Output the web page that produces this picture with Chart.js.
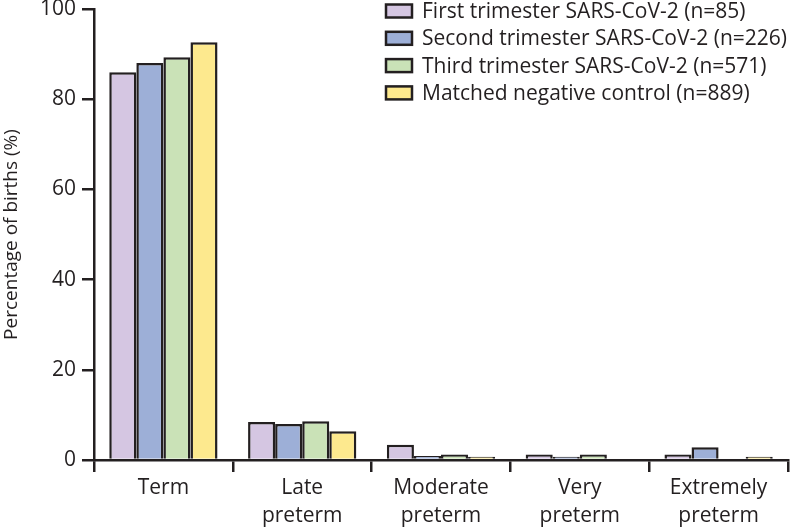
<!DOCTYPE html>
<html>
<head>
<meta charset="utf-8">
<script src="https://cdn.jsdelivr.net/npm/chart.js@4.4.0/dist/chart.umd.min.js"></script>
<style>
    html, body { margin: 0; padding: 0; background: #fff; }
    #wrap { width: 792px; height: 531px; }
</style>
</head>
<body>
<div id="wrap"><canvas id="births"></canvas></div>
<script>
// ===============================
// Data
// ===============================

const categories = [
    "Term",
    ["Late", "preterm"],
    ["Moderate", "preterm"],
    ["Very", "preterm"],
    ["Extremely", "preterm"]
];

const seriesNames = [
    "First trimester SARS-CoV-2 (n=85)",
    "Second trimester SARS-CoV-2 (n=226)",
    "Third trimester SARS-CoV-2 (n=571)",
    "Matched negative control (n=889)"
];

const firstTrimester  = [86.0, 8.4, 3.4, 1.2, 1.2];
const secondTrimester = [88.0, 8.0, 0.9, 0.7, 2.8];
const thirdTrimester  = [89.3, 8.6, 1.2, 1.2, 0];
const negControl      = [92.6, 6.4, 0.7, 0.3, 0.7];

const yTicks = [0, 20, 40, 60, 80, 100];

const fillColors = ["#d5c6e2", "#9dafd7", "#cae2b7", "#fde98e"];

const ink = "#231f20";
const fontFamily = "'Open Sans', 'DejaVu Sans', sans-serif";

// ===============================
// Legend drawn inside the plot (top right)
// ===============================

const insideLegend = {
    id: "insideLegend",
    afterDraw(chart){
        const ctx = chart.ctx;
        ctx.save();
        ctx.font = "21px " + fontFamily;
        ctx.textBaseline = "middle";
        chart.data.datasets.forEach(function(ds, i){
            const y = 11 + i * 27.3;
            ctx.fillStyle = ds.backgroundColor;
            ctx.strokeStyle = ink;
            ctx.lineWidth = 2.5;
            ctx.fillRect(386, y - 6.5, 26, 13);
            ctx.strokeRect(386, y - 6.5, 26, 13);
            ctx.fillStyle = ink;
            ctx.fillText(ds.label, 422, y + 1);
        });
        ctx.restore();
    }
};

// ===============================
// Chart
// ===============================

const seriesValues = [firstTrimester, secondTrimester, thirdTrimester, negControl];

new Chart(document.getElementById("births"), {

    type: "bar",

    data: {
        labels: categories,
        datasets: seriesValues.map(function(values, i){
            return {
                label: seriesNames[i],
                data: values,
                backgroundColor: fillColors[i],
                borderColor: ink,
                borderWidth: 2.5,
                borderSkipped: "bottom",
                categoryPercentage: 0.78,
                barPercentage: 1.0
            };
        })
    },

    options: {
        responsive: true,
        maintainAspectRatio: false,
        animation: false,
        devicePixelRatio: 1,
        layout: {
            padding: { top: 9, right: 4, left: 0, bottom: 0 }
        },
        plugins: {
            legend: { display: false },
            tooltip: { enabled: false }
        },
        scales: {
            x: {
                grid: {
                    offset: true,
                    drawOnChartArea: false,
                    drawTicks: true,
                    tickLength: 12,
                    color: ink,
                    lineWidth: 2.5
                },
                border: { display: true, color: ink, width: 2.5 },
                ticks: {
                    color: ink,
                    font: { family: fontFamily, size: 21, lineHeight: 1.32 },
                    padding: 2,
                    maxRotation: 0,
                    autoSkip: false
                },
                afterFit(scale){
                    scale.height = 71;
                    scale.paddingLeft = 0;
                    scale.paddingRight = 0;
                }
            },
            y: {
                min: 0,
                max: 100,
                afterBuildTicks(scale){
                    scale.ticks = yTicks.map(function(v){ return { value: v }; });
                },
                grid: {
                    drawOnChartArea: false,
                    drawTicks: true,
                    tickLength: 12,
                    color: ink,
                    lineWidth: 2.5
                },
                border: { display: true, color: ink, width: 2.5 },
                ticks: {
                    color: ink,
                    font: { family: fontFamily, size: 21 },
                    padding: 6
                },
                title: {
                    display: true,
                    text: "Percentage of births (%)",
                    color: ink,
                    font: { family: fontFamily, size: 19 },
                    padding: { top: 0, bottom: 2 }
                },
                afterFit(scale){
                    scale.width = 94;
                    scale.paddingTop = 0;
                    scale.paddingBottom = 0;
                }
            }
        }
    },

    plugins: [insideLegend]

});
</script>
</body>
</html>
